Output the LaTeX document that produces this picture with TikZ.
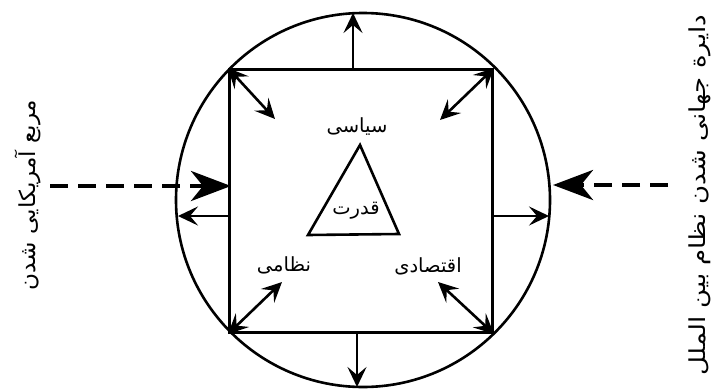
\documentclass[tikz,border=0pt]{standalone}
\usepackage{fontspec}
\usetikzlibrary{arrows.meta,calc}
\newfontfamily\arabicfont[Script=Arabic]{DejaVu Sans}
\TeXXeTstate=1
\begin{document}
\begin{tikzpicture}[x=1pt,y=-1pt,
  ring/.style={draw,circle,line width=2.6pt,minimum size=374pt,inner sep=0pt},
  box/.style={draw,rectangle,line width=3pt,minimum size=263pt,inner sep=0pt},
  smallarrow/.style={line width=2.6pt,-{Stealth[length=20pt,width=19pt,inset=8pt]}},
  twoway/.style={line width=2.6pt,{Stealth[length=20pt,width=19pt,inset=8pt]}-{Stealth[length=20pt,width=19pt,inset=8pt]}},
  bigdash/.style={line width=4.5pt,dash pattern=on 18pt off 10pt,-{Stealth[length=40pt,width=30pt,inset=12pt]}},
  lbl/.style={font=\arabicfont\fontsize{19.5}{22}\selectfont,inner sep=0pt},
  side/.style={font=\arabicfont\fontsize{22}{24}\selectfont,inner sep=0pt,rotate=90}
]
\useasboundingbox (0,0) rectangle (725,388);
\node[ring] (C) at (363,200) {};
\node[box] (S) at (361,201) {};
% points on edges
\coordinate (St) at (353,70);
\coordinate (Ct) at (353,13);
\coordinate (Sb) at (357,332);
\coordinate (Cb) at (357,387);
\coordinate (Sl) at (230,216);
\coordinate (Cl) at (178,216);
\coordinate (Sr) at (492,216);
\coordinate (Cr) at (549,216);
\draw[smallarrow] (St) -- (Ct);
\draw[smallarrow] (Sb) -- (Cb);
\draw[smallarrow] (Sl) -- (Cl);
\draw[smallarrow] (Sr) -- (Cr);
% diagonal double arrows
\coordinate (dtl) at (275,119);
\coordinate (dtr) at (440,120);
\coordinate (dbl) at (282,282);
\coordinate (dbr) at (438,282);
\draw[twoway] (S.north west) -- (dtl);
\draw[twoway] (S.north east) -- (dtr);
\draw[twoway] (S.south west) -- (dbl);
\draw[twoway] (S.south east) -- (dbr);
% triangle
\coordinate (ta) at (360,145);
\coordinate (tb) at (308,235);
\coordinate (tc) at (399,234);
\draw[line width=2.6pt,line join=miter] (ta) -- (tb) -- (tc) -- cycle;
% labels
\node[lbl] (siasi) at (357,127) {\beginR سیاسی\endR};
\node[lbl] (qodrat) at (356,211) {\beginR قدرت\endR};
\node[lbl] (nezami) at (284,265) {\beginR نظامی\endR};
\node[lbl] (eqtesadi) at (428,266) {\beginR اقتصادی\endR};
% dashed arrows
\coordinate (dl) at (50,186);
\coordinate (Sl2) at (231,186);
\coordinate (dr) at (668,185);
\coordinate (Cr2) at (553,185);
\draw[bigdash] (dl) -- (Sl2);
\draw[bigdash] (dr) -- (Cr2);
% side labels
\node[side] (lefttxt) at (28,195) {\scalebox{1.05}[1]{\beginR مربع آمریکایی شدن\endR}};
\node[side] (righttxt) at (700,195) {\scalebox{1.18}[1]{\beginR دایرة جهانی شدن نظام بین الملل\endR}};
\end{tikzpicture}
\end{document}
